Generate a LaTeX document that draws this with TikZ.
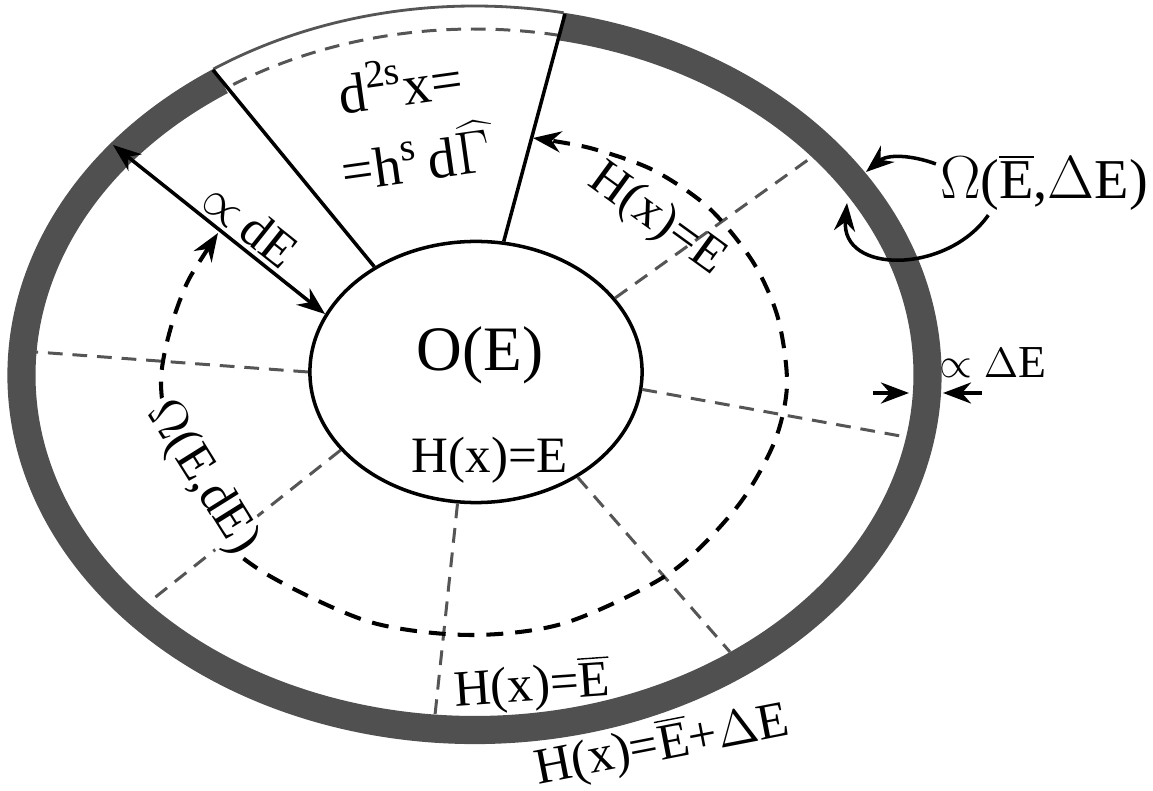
\documentclass[tikz,border=0pt]{standalone}
\usepackage{fontspec}
\setmainfont{Liberation Serif}
\usetikzlibrary{arrows.meta,shapes.geometric,positioning}
\definecolor{bandgray}{HTML}{505050}
\definecolor{gridgray}{HTML}{555555}

\begin{document}
\begin{tikzpicture}[x=0.01cm,y=0.01cm,
  band/.style={draw=bandgray,line width=8pt},
  rim/.style={draw=gridgray,line width=0.8pt},
  cell/.style={draw=gridgray,line width=0.85pt,dash pattern=on 4.2pt off 2.8pt},
  level/.style={line width=1.15pt,dash pattern=on 4.8pt off 3.4pt},
  wall/.style={line width=1pt},
  tip/.style={-{Stealth[length=8pt,width=6pt]}},
  twotip/.style={{Stealth[length=8pt,width=6pt]}-{Stealth[length=8pt,width=6pt]}},
  lbl/.style={font=\fontsize{14.5}{16}\selectfont,inner sep=1pt},
  cellbl/.style={font=\fontsize{16}{18}\selectfont,inner sep=1pt}]
  \useasboundingbox (0,0) rectangle (1153,-791);

  % energy shell H(x) between E-bar and E-bar+dE
  \begin{scope}[shift={(474.5,-375)}]
    \draw[band] (124:453 and 355) arc[start angle=124,end angle=439,x radius=453,y radius=355];
    \draw[rim] (79:467 and 369) arc[start angle=79,end angle=124,x radius=467,y radius=369];
    \draw[cell] (79:444 and 346) arc[start angle=79,end angle=124,x radius=444,y radius=346];
  \end{scope}

  % inner surface H(x)=E
  \node[draw,ellipse,wall,minimum width=3.32cm,minimum height=2.61cm,inner sep=0pt] (OE) at (476,-372) {};

  % points on the shell
  \coordinate (rL) at (213,-70);
  \coordinate (rR) at (565,-14);
  \coordinate (gL) at (36,-352);
  \coordinate (gLL) at (148,-603);
  \coordinate (gB) at (435,-715);
  \coordinate (gLR) at (730,-652);
  \coordinate (gR) at (906,-437);
  \coordinate (gUR) at (812,-157);
  \coordinate (dE) at (113,-145);

  % cells
  \draw[cell] (OE.180) -- (gL);
  \draw[cell] (OE.210) -- (gLL);
  \draw[cell] (OE.262) -- (gB);
  \draw[cell] (OE.314) -- (gLR);
  \draw[cell] (OE.354) -- (gR);
  \draw[cell] (OE.28) -- (gUR);
  \draw[wall] (OE.134) -- (rL);
  \draw[wall] (OE.78) -- (rR);

  \draw[wall,twotip] (dE) -- (OE.159)
    node[lbl,sloped,above,pos=0.58] {$\propto$\,dE};

  % level H(x)=E-bar
  \draw[level,twotip] plot[smooth] coordinates {(218,-233) (180,-300) (161,-380)
    (176,-465) (213,-530) (268,-575) (370,-622) (470,-635) (565,-623) (670,-573)
    (737,-507) (774,-443) (787,-385) (778,-318) (753,-262) (709,-208) (653,-170)
    (590,-148) (533,-138)};

  \node[lbl,fill=white,rotate=-58] (OmegadE) at (202,-478) {$\Omega$(E,dE)};
  \node[lbl,rotate=-36] (Hup) at (657,-220) {H(x)=E};

  \node[font=\fontsize{18}{20}\selectfont] (OEtxt) at (480,-355) {O(E)};
  \node[lbl] (Hin) at (490,-460) {H(x)=E};
  \node[lbl,rotate=4] (Hbar) at (532,-686) {H(x)=$\overline{\mbox{E}}$};
  \node[lbl,rotate=11] (Hshell) at (662,-745) {H(x)=$\overline{\mbox{E}}$+$\Delta$E};

  \node[cellbl,rotate=8] (dsx) at (400,-82) {d\textsuperscript{2s}x=};
  \node[cellbl,rotate=8] (hsd) at (420,-155) {=h\textsuperscript{s}\,d$\widehat{\mbox{$\Gamma$\,}}$};

  % shell width
  \node[font=\fontsize{13}{15}\selectfont,inner sep=1pt] (dEbar) at (993,-363) {$\propto$ $\Delta$E};
  \coordinate (wA) at (873,-393);
  \coordinate (wIn) at (909,-393);
  \coordinate (wB) at (982,-393);
  \coordinate (wOut) at (943,-393);
  \draw[wall,tip] (wA) -- (wIn);
  \draw[wall,tip] (wB) -- (wOut);

  % shell volume
  \node[font=\fontsize{16}{18}\selectfont,inner sep=1pt] (OmegaBar) at (1044,-183) {$\Omega$($\overline{\mbox{E}}$,$\Delta$E)};
  \coordinate (sOut) at (866,-172);
  \coordinate (sIn) at (847,-203);
  \draw[wall,tip] (OmegaBar.170) to[out=160,in=40] (sOut);
  \draw[wall,tip] (OmegaBar.210) to[out=235,in=-95,looseness=1.3] (sIn);
\end{tikzpicture}
\end{document}
